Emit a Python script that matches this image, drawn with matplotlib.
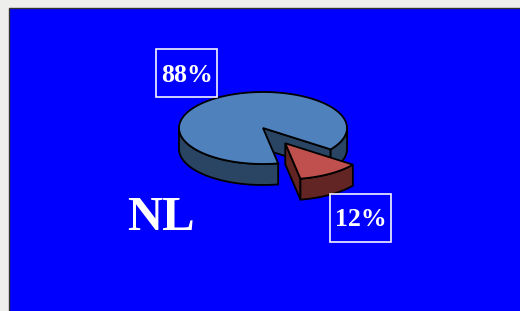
import numpy as np
import matplotlib
matplotlib.use("Agg")
import matplotlib.pyplot as plt
from matplotlib.patches import Polygon, Rectangle

# data
shares = [88, 12]
top_colors = ["#4F81BD", "#C0504D"]
side_colors = ["#2A4463", "#632523"]
explode = [0.0, 0.5]
region = "NL"

# pie geometry (pixels)
cx, cy = 263, 128
a, b = 84, 36
depth = 21
gap_mid = -58.0  # degrees, middle of the small slice

fig = plt.figure(figsize=(5.2, 3.11), dpi=100, facecolor="#EEEFEC")
ax = fig.add_axes([0, 0, 1, 1])
ax.set_xlim(0, 520)
ax.set_ylim(311, 0)
ax.axis("off")

ax.add_patch(Rectangle((8.5, 7.5), 520, 310, facecolor="#0000FF",
                       edgecolor="#333333", lw=1.0, zorder=0))


def pt(t, dx, dy, z=0):
    r = np.radians(t)
    return cx + dx + a * np.cos(r), cy + dy - b * np.sin(r) + z


def side(t0, t1, dx, dy, color):
    ts = np.linspace(t0, t1, 60)
    upper = [pt(t, dx, dy) for t in ts]
    lower = [pt(t, dx, dy, depth) for t in ts[::-1]]
    ax.add_patch(Polygon(upper + lower, closed=True, facecolor=color,
                         edgecolor="black", lw=1.3, zorder=2))


def radial(t, dx, dy, color):
    c = (cx + dx, cy + dy)
    p = pt(t, dx, dy)
    poly = [c, p, (p[0], p[1] + depth), (c[0], c[1] + depth)]
    ax.add_patch(Polygon(poly, closed=True, facecolor=color,
                         edgecolor="black", lw=1.3, zorder=2))


def top(t0, t1, dx, dy, color):
    ts = np.linspace(t0, t1, 120)
    poly = [(cx + dx, cy + dy)] + [pt(t, dx, dy) for t in ts]
    ax.add_patch(Polygon(poly, closed=True, facecolor=color,
                         edgecolor="black", lw=1.3, zorder=3))


def visible_ranges(t0, t1):
    # parts of [t0, t1] where the outer wall faces the viewer (sin <= 0)
    out = []
    for k in range(-1, 3):
        lo, hi = 180 + 360 * k, 360 + 360 * k
        s, e = max(t0, lo), min(t1, hi)
        if e > s:
            out.append((s, e))
    return out


total = sum(shares)
small = shares[1] / total * 360
red0, red1 = gap_mid - small / 2, gap_mid + small / 2
spans = [(red1, red0 + 360), (red0, red1)]

for i, (t0, t1) in enumerate(spans):
    mid = np.radians((t0 + t1) / 2)
    dx = explode[i] * a * np.cos(mid)
    dy = -explode[i] * b * np.sin(mid)
    radial(t0, dx, dy, side_colors[i])
    for s, e in visible_ranges(t0, t1):
        side(s, e, dx, dy, side_colors[i])
    top(t0, t1, dx, dy, top_colors[i])

labels = [f"{v}%" for v in shares]
boxes = [(156, 49), (330, 194)]
for lab, (x0, y0) in zip(labels, boxes):
    ax.add_patch(Rectangle((x0, y0), 61, 48, facecolor="none",
                           edgecolor="#F4F4FF", lw=1.2, zorder=4))
    ax.text(x0 + 30.5, y0 + 26, lab, color="white", fontsize=18.5,
            fontweight="bold", family="Liberation Serif",
            ha="center", va="center", zorder=5)

ax.text(161, 218, region, color="white", fontsize=35, fontweight="bold",
        family="Liberation Serif", ha="center", va="center", zorder=5)

fig.savefig("out.png", dpi=100, facecolor=fig.get_facecolor())
